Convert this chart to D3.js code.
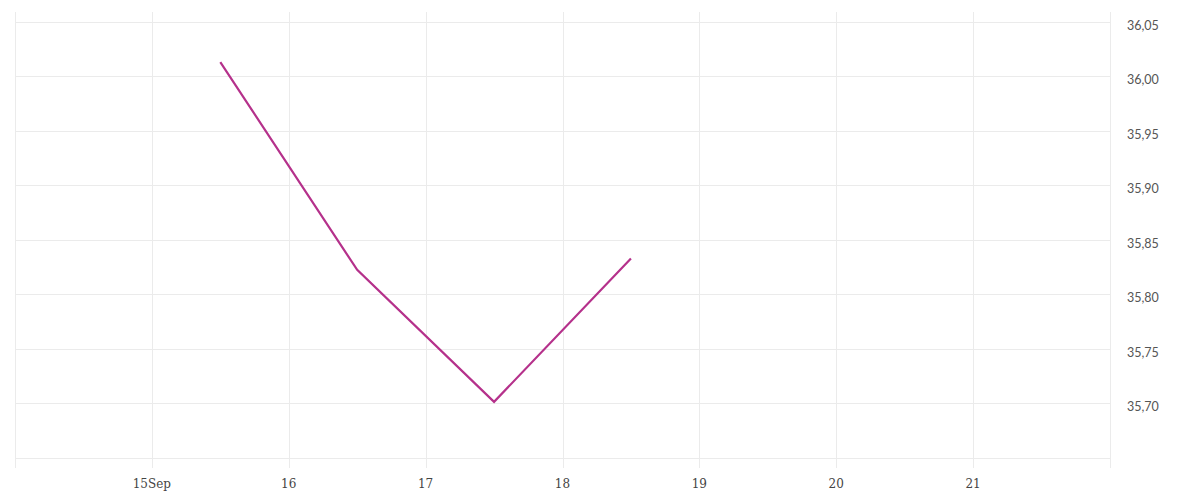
<!DOCTYPE html>
<html><head><meta charset="utf-8">
<script src="https://cdn.jsdelivr.net/npm/d3@7"></script>
<style>body{margin:0;background:#fff}</style>
</head><body><svg id="c" width="1200" height="500"></svg>
<script>
const dates = ["2023-09-15T12:00","2023-09-16T12:00","2023-09-17T12:00","2023-09-18T12:00"];
const values = [36.013, 35.8225, 35.7015, 35.833];
const yTicks = [35.70,35.75,35.80,35.85,35.90,35.95,36.00,36.05];
const xTickDays = ["2023-09-15","2023-09-16","2023-09-17","2023-09-18","2023-09-19","2023-09-20","2023-09-21"];
const xDomain = ["2023-09-14","2023-09-22"];
const yDomain = [35.65, 36.059];

const parse = d3.timeParse("%Y-%m-%dT%H:%M"), parseD = d3.timeParse("%Y-%m-%d");
const svg = d3.select("#c");
const L=15, R=1110, T=12, B=458;
const x = d3.scaleTime().domain(xDomain.map(parseD)).range([L,R]);
const y = d3.scaleLinear().domain(yDomain).range([B,T]);
const grid = "#ebebeb";
const g = svg.append("g");
g.selectAll(".h").data(yTicks.concat([35.65])).join("line")
  .attr("x1",L).attr("x2",R).attr("y1",d=>Math.round(y(d))+0.5).attr("y2",d=>Math.round(y(d))+0.5)
  .attr("stroke",grid);
const vx = [parseD(xDomain[0])].concat(xTickDays.map(parseD)).concat([parseD(xDomain[1])]);
g.selectAll(".v").data(vx).join("line")
  .attr("x1",d=>Math.round(x(d))+0.5).attr("x2",d=>Math.round(x(d))+0.5)
  .attr("y1",T).attr("y2",B+10).attr("stroke",grid);
const fmt = d => d.getDate()===15 ? "15Sep" : String(d.getDate());
g.selectAll(".xl").data(xTickDays.map(parseD)).join("text")
  .attr("x",d=>x(d)).attr("y",488).attr("text-anchor","middle")
  .attr("font-family","DejaVu Serif").attr("font-size",12).attr("fill","#444")
  .text(fmt);
const yf = d => d.toFixed(2).replace(".",",");
g.selectAll(".yl").data(yTicks).join("text")
  .attr("x",1127).attr("y",d=>y(d)+7.8)
  .attr("font-family","Lato").attr("font-size",12.5).attr("fill","#555")
  .text(yf);
const pts = dates.map((d,i)=>({d:parse(d),v:values[i]}));
svg.append("path").datum(pts)
  .attr("d", d3.line().x(p=>x(p.d)).y(p=>y(p.v)))
  .attr("fill","none").attr("stroke","#b5318b").attr("stroke-width",2.2);
</script></body></html>
